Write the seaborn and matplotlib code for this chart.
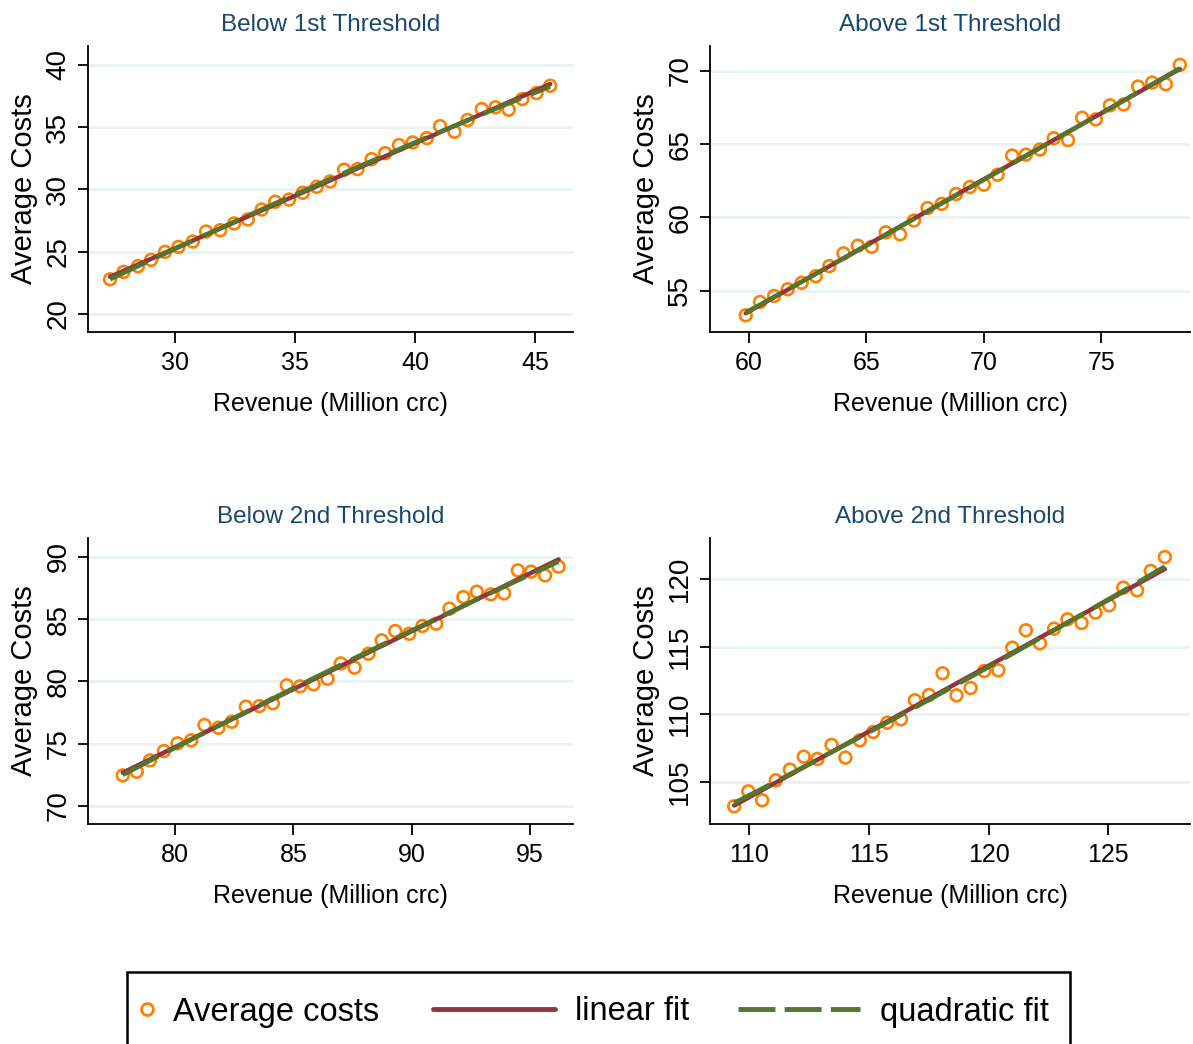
import numpy as np
import pandas as pd
import matplotlib
matplotlib.use("Agg")
import matplotlib.pyplot as plt
from matplotlib.lines import Line2D
from matplotlib.patches import Rectangle
import seaborn as sns

# ---------------- data ----------------
titles = ["Below 1st Threshold", "Above 1st Threshold", "Below 2nd Threshold", "Above 2nd Threshold"]

rev_b1 = [27.29, 27.85, 28.45, 29.00, 29.58, 30.14, 30.74, 31.29, 31.88, 32.46, 33.03, 33.61, 34.17,
          34.75, 35.32, 35.90, 36.46, 37.04, 37.60, 38.19, 38.75, 39.33, 39.90, 40.49, 41.04, 41.64,
          42.19, 42.78, 43.35, 43.90, 44.47, 45.06, 45.63]
cost_b1 = [22.78, 23.37, 23.83, 24.34, 24.98, 25.38, 25.81, 26.61, 26.72, 27.26, 27.58, 28.38, 29.00,
           29.18, 29.72, 30.20, 30.63, 31.57, 31.62, 32.42, 32.90, 33.55, 33.76, 34.11, 35.07, 34.62,
           35.56, 36.44, 36.58, 36.39, 37.24, 37.72, 38.31]

rev_a1 = [59.86, 60.47, 61.07, 61.65, 62.24, 62.84, 63.42, 64.02, 64.63, 65.22, 65.82, 66.43, 67.02,
          67.60, 68.20, 68.81, 69.40, 70.00, 70.58, 71.20, 71.78, 72.38, 72.97, 73.58, 74.18, 74.76,
          75.36, 75.95, 76.56, 77.16, 77.74, 78.34]
cost_a1 = [53.31, 54.22, 54.63, 55.09, 55.53, 55.98, 56.67, 57.54, 58.06, 57.99, 58.98, 58.84, 59.78,
           60.63, 60.92, 61.59, 62.07, 62.23, 62.91, 64.22, 64.28, 64.63, 65.40, 65.27, 66.80, 66.69,
           67.65, 67.71, 68.93, 69.20, 69.09, 70.41]

rev_b2 = [77.79, 78.38, 78.94, 79.53, 80.10, 80.68, 81.24, 81.83, 82.39, 82.99, 83.56, 84.13, 84.72,
          85.28, 85.85, 86.44, 87.00, 87.58, 88.17, 88.73, 89.30, 89.89, 90.45, 91.03, 91.59, 92.18,
          92.75, 93.34, 93.90, 94.48, 95.04, 95.63, 96.20]
cost_b2 = [72.46, 72.75, 73.66, 74.41, 75.03, 75.27, 76.50, 76.28, 76.76, 77.97, 78.02, 78.24, 79.68,
           79.60, 79.76, 80.21, 81.44, 81.10, 82.22, 83.29, 84.04, 83.82, 84.44, 84.63, 85.83, 86.76,
           87.19, 86.98, 87.06, 88.90, 88.80, 88.50, 89.20]

rev_a2 = [109.37, 109.96, 110.54, 111.11, 111.70, 112.28, 112.85, 113.44, 114.02, 114.62, 115.18, 115.77,
          116.34, 116.92, 117.51, 118.08, 118.66, 119.25, 119.82, 120.41, 120.99, 121.56, 122.15, 122.74,
          123.30, 123.89, 124.47, 125.04, 125.63, 126.21, 126.78, 127.37]
cost_a2 = [103.17, 104.28, 103.62, 105.10, 105.89, 106.85, 106.68, 107.72, 106.78, 108.06, 108.68, 109.37,
           109.62, 111.03, 111.42, 113.03, 111.40, 111.94, 113.20, 113.25, 114.93, 116.22, 115.25, 116.34,
           117.03, 116.76, 117.53, 118.07, 119.38, 119.18, 120.62, 121.65]

xticks_list = [[30, 35, 40, 45], [60, 65, 70, 75], [80, 85, 90, 95], [110, 115, 120, 125]]
yticks_list = [[20, 25, 30, 35, 40], [55, 60, 65, 70], [70, 75, 80, 85, 90], [105, 110, 115, 120]]
xlims = [(26.37, 46.58), (58.34, 78.77), (76.32, 96.81), (108.36, 128.42)]
ylims = [(18.55, 41.5), (52.17, 71.7), (68.56, 91.5), (101.86, 123.06)]

series = [(rev_b1, cost_b1), (rev_a1, cost_a1), (rev_b2, cost_b2), (rev_a2, cost_a2)]
legend_labels = ["Average costs", "linear fit", "quadratic fit"]

# ---------------- style ----------------
sns.set_theme(style="white")
FONT = ["Liberation Sans", "DejaVu Sans"]
plt.rcParams["font.family"] = FONT
plt.rcParams["text.color"] = "black"
plt.rcParams["axes.labelcolor"] = "black"
plt.rcParams["xtick.color"] = "black"
plt.rcParams["ytick.color"] = "black"

ORANGE = "#ff8000"
MAROON = "#90353b"
GREEN = "#55752f"
NAVY = "#1a476f"
GRID = "#eaf2f3"

W, H = 1193, 1044
fig = plt.figure(figsize=(W / 100, H / 100), dpi=100)
fig.patch.set_facecolor("white")

boxes = [(88, 46, 573, 332), (710, 46, 1190, 332), (88, 538, 573, 824), (710, 538, 1190, 824)]

for i, (l, t, r, b) in enumerate(boxes):
    ax = fig.add_axes([l / W, 1 - b / H, (r - l) / W, (b - t) / H])
    x, y = series[i]
    df = pd.DataFrame({"rev": x, "cost": y})
    sns.scatterplot(data=df, x="rev", y="cost", ax=ax, marker="o", s=72,
                    facecolor="none", edgecolor=ORANGE, linewidth=1.9, zorder=3)
    sns.regplot(data=df, x="rev", y="cost", ax=ax, order=1, scatter=False, ci=None,
                color=MAROON, line_kws={"lw": 3.2, "zorder": 4})
    sns.regplot(data=df, x="rev", y="cost", ax=ax, order=2, scatter=False, ci=None,
                color=GREEN, line_kws={"lw": 3.2, "zorder": 5, "dashes": (9, 2.5)})
    ax.set_xlim(*xlims[i])
    ax.set_ylim(*ylims[i])
    ax.set_xticks(xticks_list[i])
    ax.set_yticks(yticks_list[i])
    ax.set_xticklabels([str(v) for v in xticks_list[i]], fontsize=18)
    ax.set_yticklabels([str(v) for v in yticks_list[i]], rotation=90, va="center", fontsize=20)
    ax.tick_params(axis="x", length=8, width=1.3, color="black", direction="out", pad=6, bottom=True)
    ax.tick_params(axis="y", length=7, width=1.3, color="black", direction="out", pad=5, left=True)
    ax.grid(axis="y", color=GRID, lw=2.2)
    ax.grid(axis="x", visible=False)
    ax.set_axisbelow(True)
    for s in ["top", "right"]:
        ax.spines[s].set_visible(False)
    for s in ["left", "bottom"]:
        ax.spines[s].set_color("black")
        ax.spines[s].set_linewidth(1.3)
    ax.set_xlabel("Revenue (Million crc)", fontsize=18, labelpad=12)
    ax.set_ylabel("Average Costs", fontsize=21, labelpad=5)
    ax.set_title(titles[i], fontsize=17.5, color=NAVY, pad=11)

# ---------------- legend ----------------
fig.add_artist(Rectangle((127 / W, -0.01), (1070 - 127) / W, (1044 - 972) / H + 0.01,
                         transform=fig.transFigure, fill=False, edgecolor="black", lw=1.8))

handles = [
    Line2D([], [], ls="none", marker="o", markersize=8.5, markerfacecolor="none",
           markeredgecolor=ORANGE, markeredgewidth=2),
    Line2D([], [], color=MAROON, lw=3.5),
    Line2D([], [], color=GREEN, lw=3.5, dashes=(7.6, 1.9)),
]
FS = 23.5
em = FS * 100 / 72.0
specs = [(139, 16, 173), (433, 122, 575), (738, 122, 880)]
for h, lab, (x0, hl, xt) in zip(handles, legend_labels, specs):
    leg = fig.legend([h], [lab], loc="center left", bbox_to_anchor=(x0 / W, 1 - 1012 / H),
                     frameon=False, fontsize=FS, handlelength=hl / em,
                     handletextpad=(xt - x0 - hl) / em, borderpad=0, borderaxespad=0)

fig.savefig("out.png", dpi=100, facecolor="white")
